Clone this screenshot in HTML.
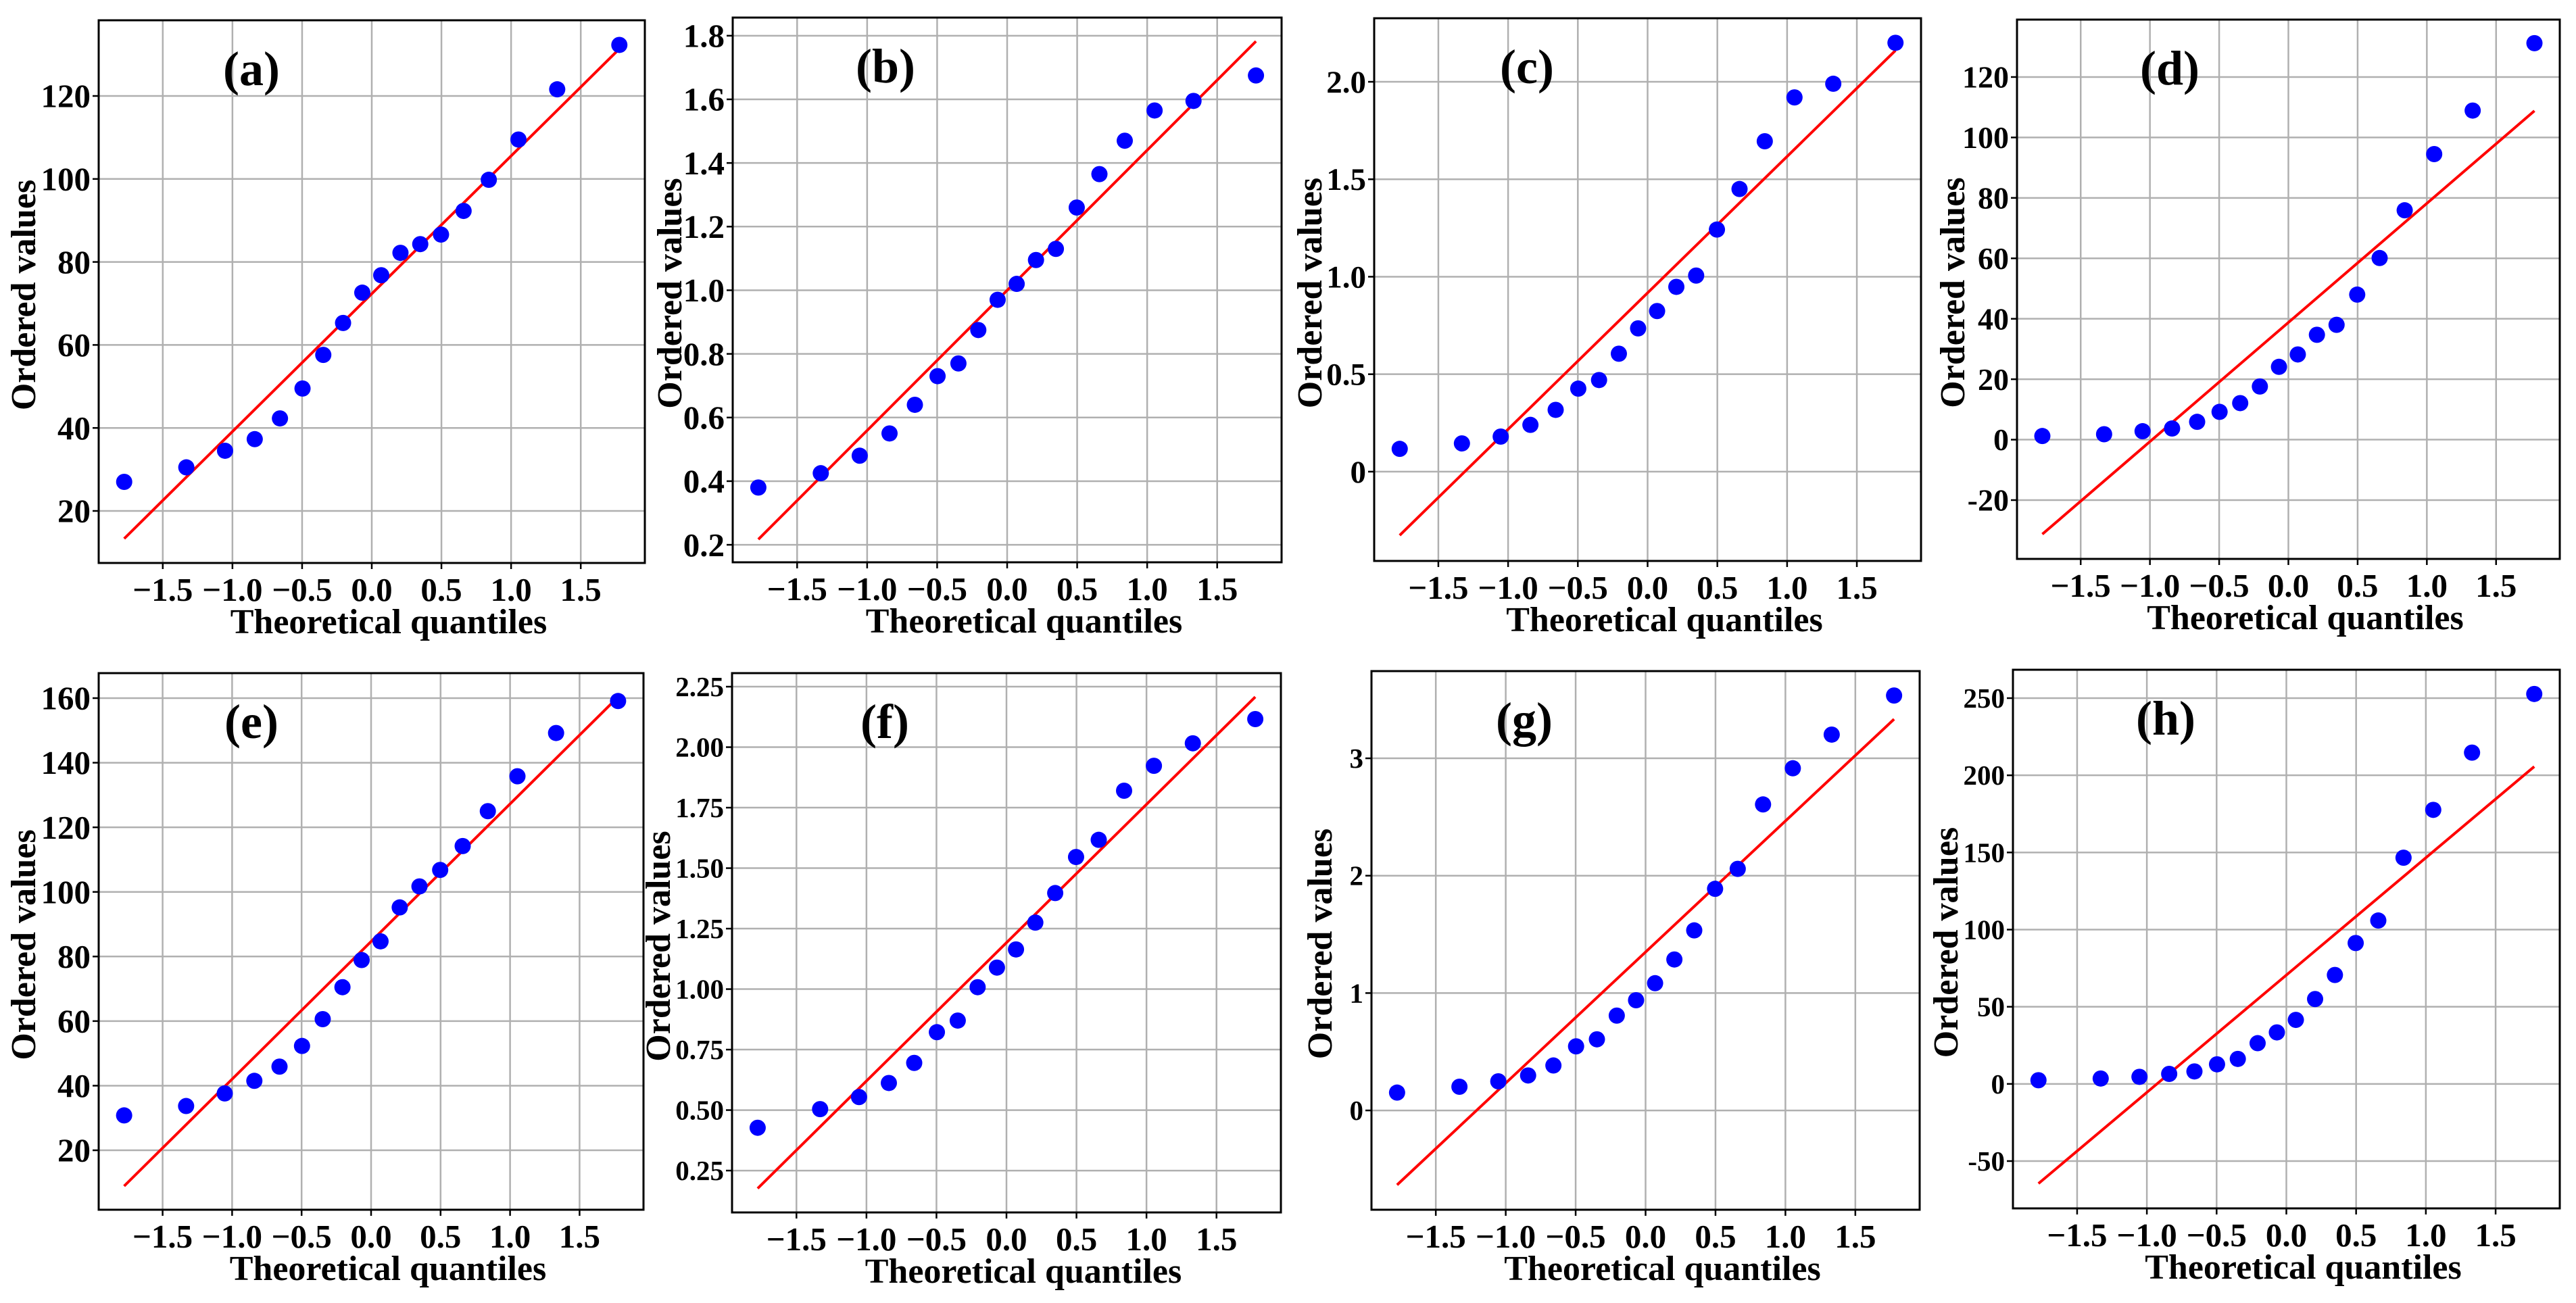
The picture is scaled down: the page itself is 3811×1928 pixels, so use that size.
<!DOCTYPE html>
<html><head><meta charset="utf-8"><style>
html,body{margin:0;padding:0;background:#fff;}
svg{display:block;font-family:"Liberation Serif",serif;font-weight:bold;}
</style></head><body>
<svg id="fig" width="3811" height="1928" viewBox="0 0 3811 1928"></svg>
<script>
const quantiles=[-1.777,-1.331,-1.053,-0.840,-0.659,-0.497,-0.348,-0.206,-0.068,0.068,0.206,0.348,0.497,0.659,0.840,1.053,1.331,1.777];
const xTicks=[-1.5,-1.0,-0.5,0.0,0.5,1.0,1.5];
const xTickLabels=["\u22121.5","\u22121.0","\u22120.5","0.0","0.5","1.0","1.5"];
const valuesA=[27,30.5,34.5,37.3,42.3,49.5,57.6,65.3,72.6,76.8,82.2,84.3,86.6,92.3,99.8,109.5,121.6,132.3];
const valuesB=[0.38,0.425,0.48,0.55,0.64,0.73,0.77,0.875,0.97,1.02,1.095,1.13,1.26,1.365,1.47,1.565,1.595,1.675];
const valuesC=[0.117,0.145,0.18,0.24,0.317,0.426,0.47,0.605,0.735,0.824,0.948,1.006,1.242,1.45,1.695,1.92,1.99,2.2];
const valuesD=[1.2,1.8,2.8,3.7,5.9,9.2,12.1,17.6,24.1,28.2,34.7,38,48,60.1,75.9,94.5,108.9,131.2];
const valuesE=[30.8,33.7,37.6,41.5,45.9,52.3,60.6,70.5,78.9,84.7,95.2,101.7,106.8,114.2,125,135.8,149.2,159.1];
const valuesF=[0.427,0.504,0.554,0.612,0.695,0.822,0.870,1.008,1.089,1.164,1.275,1.397,1.546,1.617,1.820,1.923,2.016,2.116];
const valuesG=[0.152,0.202,0.248,0.298,0.383,0.546,0.606,0.808,0.939,1.084,1.286,1.534,1.888,2.058,2.607,2.915,3.202,3.535];
const valuesH=[2.4,3.5,4.6,6.5,8.1,12.7,16.2,26.4,33.4,41.5,55,70.6,91.3,105.9,146.6,177.6,214.7,252.7];
const yTicksA=[20,40,60,80,100,120];
const yTicksB=[0.2,0.4,0.6,0.8,1.0,1.2,1.4,1.6,1.8];
const yTicksC=[0,0.5,1.0,1.5,2.0];
const yTicksD=[-20,0,20,40,60,80,100,120];
const yTicksE=[20,40,60,80,100,120,140,160];
const yTicksF=[0.25,0.5,0.75,1.0,1.25,1.5,1.75,2.0,2.25];
const yTicksG=[0,1,2,3];
const yTicksH=[-50,0,50,100,150,200,250];
const yLabelsA=["20","40","60","80","100","120"];
const yLabelsB=["0.2","0.4","0.6","0.8","1.0","1.2","1.4","1.6","1.8"];
const yLabelsC=["0","0.5","1.0","1.5","2.0"];
const yLabelsD=["-20","0","20","40","60","80","100","120"];
const yLabelsE=["20","40","60","80","100","120","140","160"];
const yLabelsF=["0.25","0.50","0.75","1.00","1.25","1.50","1.75","2.00","2.25"];
const yLabelsG=["0","1","2","3"];
const yLabelsH=["-50","0","50","100","150","200","250"];

const NS="http://www.w3.org/2000/svg";
const svg=document.getElementById('fig');
function mk(tag,attrs,parent){const e=document.createElementNS(NS,tag);for(const k in attrs)e.setAttribute(k,attrs[k]);(parent||svg).appendChild(e);return e;}

const panels=[
 {id:'a',vals:valuesA,yt:yTicksA,yl:yLabelsA,L:146,R:954,T:30,B:833,y0:7.46,y1:138.24,yt_off:-112,yf:49},
 {id:'b',vals:valuesB,yt:yTicksB,yl:yLabelsB,L:1084,R:1896,T:26,B:832,y0:0.145,y1:1.857,yt_off:-94,yf:49},
 {id:'c',vals:valuesC,yt:yTicksC,yl:yLabelsC,L:2033,R:2842,T:27,B:830,y0:-0.458,y1:2.326,yt_off:-96,yf:47},
 {id:'d',vals:valuesD,yt:yTicksD,yl:yLabelsD,L:2984,R:3787,T:29,B:827,y0:-39.46,y1:139.0,yt_off:-96,yf:46},
 {id:'e',vals:valuesE,yt:yTicksE,yl:yLabelsE,L:146,R:952,T:996,B:1790,y0:1.59,y1:167.74,yt_off:-112,yf:49},
 {id:'f',vals:valuesF,yt:yTicksF,yl:yLabelsF,L:1083,R:1895,T:996,B:1794,y0:0.077,y1:2.306,yt_off:-110,yf:41},
 {id:'g',vals:valuesG,yt:yTicksG,yl:yLabelsG,L:2029,R:2840,T:993,B:1790,y0:-0.846,y1:3.743,yt_off:-77,yf:41},
 {id:'h',vals:valuesH,yt:yTicksH,yl:yLabelsH,L:2978,R:3787,T:991,B:1788,y0:-80.66,y1:268.4,yt_off:-100,yf:41}
];
const XMIN=-1.96,XMAX=1.96;

panels.forEach(p=>{
 const g=mk('g',{});
 
 
 const sx=v=>p.L+(v-XMIN)/(XMAX-XMIN)*(p.R-p.L);
 const sy=v=>p.B-(v-p.y0)/(p.y1-p.y0)*(p.B-p.T);
 xTicks.forEach((t,i)=>{
  const x=sx(t);
  const l=mk('line',{x1:x,x2:x,y1:p.T,y2:p.B,stroke:'#b0b0b0','stroke-width':2.5},g);
  
  
  mk('line',{x1:x,x2:x,y1:p.B,y2:p.B+9,stroke:'#000','stroke-width':2.5},g);
  const tx=mk('text',{x:x,y:p.B+56,'font-size':49,'text-anchor':'middle',fill:'#000'},g);
  tx.textContent=xTickLabels[i];
  
  
 });
 p.yt.forEach((t,i)=>{
  const y=sy(t);
  const l=mk('line',{x1:p.L,x2:p.R,y1:y,y2:y,stroke:'#b0b0b0','stroke-width':2.5},g);
  
  
  mk('line',{x1:p.L-9,x2:p.L,y1:y,y2:y,stroke:'#000','stroke-width':2.5},g);
  const tx=mk('text',{x:p.L-12,y:y+p.yf*0.34,'font-size':p.yf,'text-anchor':'end',fill:'#000'},g);
  tx.textContent=p.yl[i];
  
  
 });
 const n=quantiles.length;
 let mx=0,my=0;for(let i=0;i<n;i++){mx+=quantiles[i];my+=p.vals[i];}mx/=n;my/=n;
 let sxy=0,sxx=0;for(let i=0;i<n;i++){sxy+=(quantiles[i]-mx)*(p.vals[i]-my);sxx+=(quantiles[i]-mx)**2;}
 const slope=sxy/sxx,icpt=my-slope*mx;
 const xa=quantiles[0],xb=quantiles[n-1];
 const fl=mk('line',{x1:sx(xa),y1:sy(icpt+slope*xa),x2:sx(xb),y2:sy(icpt+slope*xb),stroke:'#ff0000','stroke-width':4},g);
 
 
 for(let i=0;i<n;i++){
  const c=mk('circle',{cx:sx(quantiles[i]),cy:sy(p.vals[i]),r:12,fill:'#0000ff'},g);
  
  
 }
 const fr=mk('rect',{x:p.L,y:p.T,width:p.R-p.L,height:p.B-p.T,fill:'none',stroke:'#000','stroke-width':3},g);
 
 
 const lb=mk('text',{x:p.L+226,y:p.T+96,'font-size':72,'text-anchor':'middle',fill:'#000'},g);
 lb.textContent='('+p.id+')';
 
 
 const xt=mk('text',{x:(p.L+p.R)/2+25,y:p.B+104,'font-size':52,'text-anchor':'middle',fill:'#000'},g);
 xt.textContent='Theoretical quantiles';
 
 
 const cy=(p.T+p.B)/2+5, cx=p.L+p.yt_off+18;
 const yt=mk('text',{x:cx,y:cy,'font-size':52,'text-anchor':'middle',fill:'#000',transform:'rotate(-90 '+cx+' '+cy+')'},g);
 yt.textContent='Ordered values';
 
 
});
</script>
</body></html>
